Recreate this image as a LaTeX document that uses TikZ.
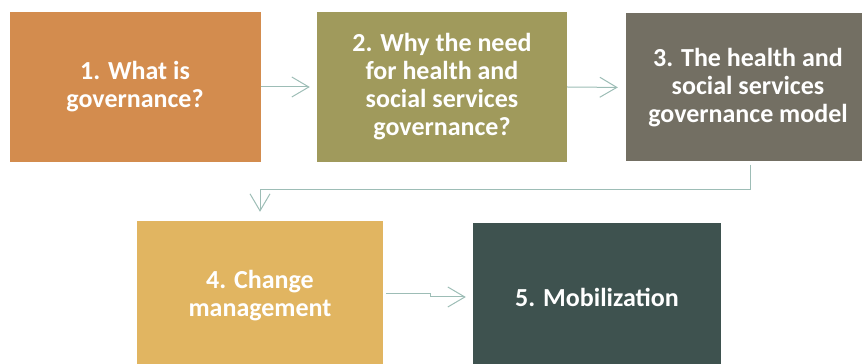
\documentclass[tikz,border=0pt]{standalone}
\usepackage{fontspec}
\setmainfont{Carlito}
\usetikzlibrary{arrows.meta,positioning}

\definecolor{boxorange}{HTML}{D38C4E}
\definecolor{boxolive}{HTML}{A09A5C}
\definecolor{boxgrey}{HTML}{736F63}
\definecolor{boxyellow}{HTML}{E1B561}
\definecolor{boxslate}{HTML}{3E524F}
\definecolor{connteal}{HTML}{9DBDB6}

\tikzset{
  stage/.style={rectangle,inner sep=0pt,text=white,align=center,
    font=\fontsize{26}{28}\selectfont\bfseries},
  conn/.style={-{Straight Barb[length=17pt,width=20pt]},draw=connteal,line width=1pt}
}

\begin{document}
\begin{tikzpicture}[x=1pt,y=1pt,node distance=300pt,on grid]
  \useasboundingbox (0,0) rectangle (862,364);
  \node[stage,fill=boxorange,minimum width=251pt,minimum height=150pt] (n1) at (135,277) {1. What is\\governance?};
  \node[stage,fill=boxolive,minimum width=250pt,minimum height=150pt] (n2) [right=307pt of n1] {2. Why the need\\for health and\\social services\\governance?};
  \node[stage,fill=boxgrey,minimum width=244pt,minimum height=148pt] (n3) [right=306pt of n2,yshift=-0.5pt] {3. The health and\\social services\\governance model};
  \node[stage,fill=boxyellow,minimum width=246pt,minimum height=149pt] (n4) [below right=208.5pt and 125pt of n1] {4. Change\\management};
  \node[stage,fill=boxslate,minimum width=248pt,minimum height=149pt] (n5) [right=337pt of n4,yshift=-2pt] {5. Mobilization};

  \draw[conn,shorten >=7pt] (n1) -- (n2);
  \draw[conn,shorten >=8pt] (n2.east) -- (n3.west);
  \draw[conn,shorten <=3pt,shorten >=9pt] ([xshift=2pt]n3.south) -- ++(0,-28) -| (n4.north);
  \draw[conn,shorten <=3pt,shorten >=7pt] ([yshift=1.5pt]n4.east) -- ++(47,0) |- ([yshift=0.5pt]n5.west);
\end{tikzpicture}
\end{document}
